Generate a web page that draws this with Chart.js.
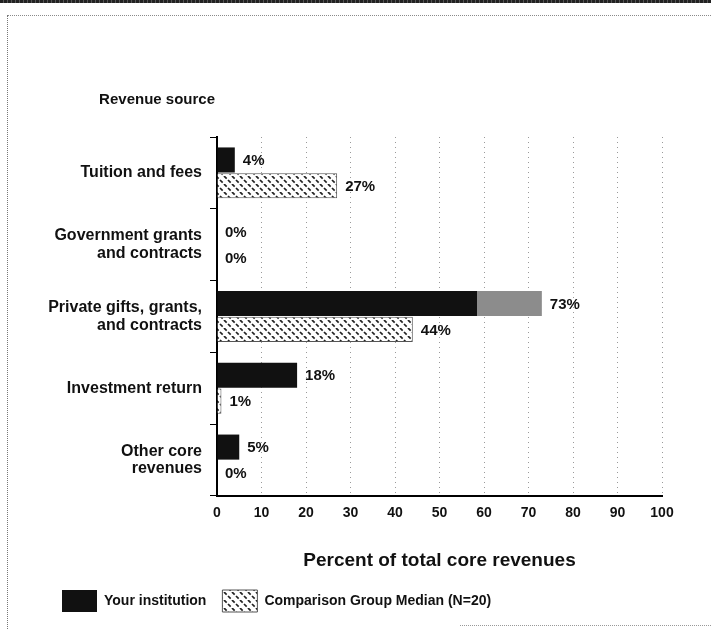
<!DOCTYPE html>
<html>
<head>
<meta charset="utf-8">
<script src="https://cdn.jsdelivr.net/npm/chart.js@4.4.1/dist/chart.umd.min.js"></script>
<style>
  html, body { margin: 0; padding: 0; background: #fff; }
  #wrap { position: relative; width: 711px; height: 629px; overflow: hidden; background: #fff; }
  #c { position: absolute; left: 0; top: 0; }
  .deco { position: absolute; pointer-events: none; }
</style>
</head>
<body>
<div id="wrap">
  <canvas id="c" width="711" height="629"></canvas>
  <div class="deco" style="left:0;top:0;width:711px;height:3px;background:repeating-linear-gradient(90deg,#222 0 3px,#555 3px 4px);"></div>
  <div class="deco" style="left:7px;top:15px;width:704px;height:0;border-top:1px dotted #8a8a8a;"></div>
  <div class="deco" style="left:7px;top:15px;width:0;height:614px;border-left:1px dotted #777;"></div>
  <div class="deco" style="left:460px;top:625px;width:251px;height:0;border-top:1px dotted #999;"></div>
</div>
<script>
// ---- data ----
const categories = [
  "Tuition and fees",
  ["Government grants", "and contracts"],
  ["Private gifts, grants,", "and contracts"],
  "Investment return",
  ["Other core", "revenues"]
];
const yourInstitution = [4, 0, 73, 18, 5];
const comparisonMedian = [27, 0, 44, 1, 0];
const seriesNames = ["Your institution", "Comparison Group Median (N=20)"];
const xTicks = [0, 10, 20, 30, 40, 50, 60, 70, 80, 90, 100];
const yAxisTitle = "Revenue source";
const xAxisTitle = "Percent of total core revenues";

// ---- styles ----
const BLACK = '#111111';
const FONT = "'Liberation Sans', Arial, sans-serif";

function makeHatch() {
  const s = 8;
  const cv = document.createElement('canvas');
  cv.width = s; cv.height = s;
  const g = cv.getContext('2d');
  g.fillStyle = '#ffffff';
  g.fillRect(0, 0, s, s);
  g.strokeStyle = '#222222';
  g.lineWidth = 1.7;
  g.setLineDash([3.77, 1.89]);
  for (let k = -1; k <= 1; k++) {
    g.beginPath();
    g.moveTo(k * s, 0);
    g.lineTo(k * s + s, s);
    g.stroke();
  }
  return g.createPattern(cv, 'repeat');
}
const hatch = makeHatch();

function yourColor(c) {
  if (c.type === 'data' && c.dataIndex === 2) {
    const chart = c.chart;
    const xs = chart.scales && chart.scales.x;
    if (xs) {
      const x0 = xs.getPixelForValue(0);
      const x1 = xs.getPixelForValue(c.raw);
      if (isFinite(x0) && isFinite(x1) && x1 > x0) {
        const gr = chart.ctx.createLinearGradient(x0, 0, x1, 0);
        gr.addColorStop(0, BLACK);
        gr.addColorStop(0.8, BLACK);
        gr.addColorStop(0.8, '#8c8c8c');
        gr.addColorStop(1, '#8c8c8c');
        return gr;
      }
    }
  }
  return BLACK;
}

const valueLabels = {
  id: 'valueLabels',
  afterDatasetsDraw(chart) {
    const ctx = chart.ctx;
    ctx.save();
    ctx.font = "bold 15px " + FONT;
    ctx.fillStyle = BLACK;
    ctx.textAlign = 'left';
    ctx.textBaseline = 'middle';
    chart.data.datasets.forEach((ds, i) => {
      const meta = chart.getDatasetMeta(i);
      meta.data.forEach((bar, j) => {
        ctx.fillText(ds.data[j] + '%', bar.x + 8, bar.y + 1);
      });
    });
    ctx.restore();
  }
};

const topTitle = {
  id: 'topTitle',
  afterDraw(chart) {
    const ctx = chart.ctx;
    const a = chart.chartArea;
    ctx.save();
    ctx.font = "bold 15px " + FONT;
    ctx.fillStyle = BLACK;
    ctx.textAlign = 'right';
    ctx.textBaseline = 'middle';
    ctx.fillText(yAxisTitle, a.left - 2, a.top - 37);
    ctx.restore();
  }
};

new Chart(document.getElementById('c'), {
  type: 'bar',
  data: {
    labels: categories,
    datasets: [
      {
        label: seriesNames[0],
        data: yourInstitution,
        backgroundColor: yourColor,
        borderWidth: 0,
        categoryPercentage: 0.72,
        barPercentage: 0.97
      },
      {
        label: seriesNames[1],
        data: comparisonMedian,
        backgroundColor: hatch,
        borderColor: '#555555',
        borderWidth: 1,
        categoryPercentage: 0.72,
        barPercentage: 0.97
      }
    ]
  },
  options: {
    indexAxis: 'y',
    responsive: false,
    animation: false,
    layout: { padding: { top: 137, left: 46, right: 49, bottom: 7 } },
    scales: {
      x: {
        type: 'linear',
        min: 0,
        max: 100,
        afterBuildTicks: (s) => { s.ticks = xTicks.map(v => ({ value: v })); },
        ticks: {
          padding: 9,
          color: BLACK,
          font: { family: FONT, size: 14, weight: 'bold' }
        },
        grid: { drawTicks: false, color: '#9a9a9a', lineWidth: 1 },
        border: { color: '#000', width: 2, dash: [1, 4] },
        title: {
          display: true,
          text: xAxisTitle,
          color: BLACK,
          font: { family: FONT, size: 19, weight: 'bold' },
          padding: { top: 19, bottom: 1.5 }
        }
      },
      y: {
        type: 'category',
        afterFit: (s) => { s.width = 171; },
        ticks: {
          autoSkip: false,
          padding: 8,
          color: BLACK,
          font: { family: FONT, size: 16, weight: 'bold', lineHeight: 1.1 }
        },
        grid: { drawOnChartArea: false, drawTicks: true, tickLength: 7, color: '#000', lineWidth: 1 },
        border: { color: '#000', width: 2 }
      }
    },
    plugins: {
      legend: {
        position: 'bottom',
        align: 'start',
        labels: {
          boxWidth: 35,
          boxHeight: 22,
          padding: 16,
          color: BLACK,
          font: { family: FONT, size: 14, weight: 'bold' }
        }
      },
      tooltip: { enabled: false }
    }
  },
  plugins: [valueLabels, topTitle]
});
</script>
</body>
</html>
